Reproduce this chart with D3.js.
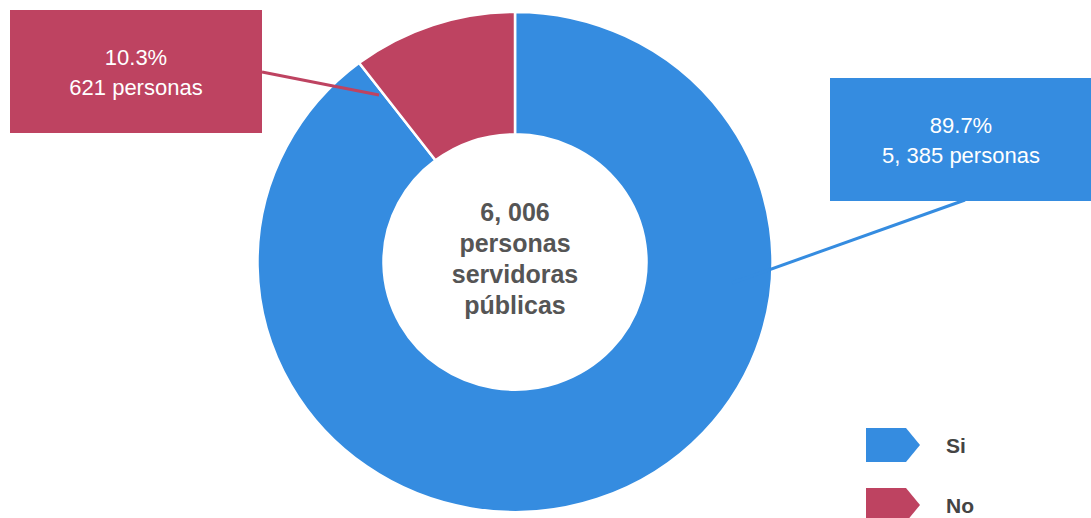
<!DOCTYPE html>
<html>
<head>
<meta charset="utf-8">
<script src="https://cdn.jsdelivr.net/npm/d3@7"></script>
<style>
  body { margin: 0; background: #fff; }
  svg { display: block; font-family: "Liberation Sans", Arial, sans-serif; }
</style>
</head>
<body>
<div id="chart"></div>
<script>
// data
const categories = ['Si', 'No'];
const personas = [5385, 621];
const percents = ['89.7%', '10.3%'];
const countLabels = ['5, 385 personas', '621 personas'];
const centerLines = ['6, 006', 'personas', 'servidoras', 'públicas'];

const w = 1091;
const h = 518;
const cx = 515;
const cy = 262;
const outerR = 257.5;
const innerR = 131.5;
const squash = 0.971;

const colors = d3.scaleOrdinal().domain(categories).range(['#358ce0', '#be4361']);

const svg = d3.select('#chart').append('svg')
  .attr('width', w)
  .attr('height', h);

// donut
const pie = d3.pie().sort(null).value(d => d.v);
const arc = d3.arc().innerRadius(innerR).outerRadius(outerR);
const slices = pie(categories.map((c, i) => ({ c: c, v: personas[i] })));

svg.append('g')
  .attr('transform', 'translate(' + cx + ',' + cy + ') scale(1,' + squash + ')')
  .selectAll('path').data(slices).enter().append('path')
  .attr('d', arc)
  .attr('fill', d => colors(d.data.c))
  .attr('stroke', '#fff')
  .attr('stroke-width', 2.5);

// label boxes with leader lines
const boxes = [
  { x: 830, y: 78, bw: 270, bh: 123, lx1: 965, ly1: 200, lx2: 732, ly2: 283 },
  { x: 10, y: 10, bw: 252, bh: 123, lx1: 262, ly1: 72, lx2: 379, ly2: 95 }
];
categories.forEach((c, i) => {
  const b = boxes[i];
  svg.append('line')
    .attr('x1', b.lx1).attr('y1', b.ly1)
    .attr('x2', b.lx2).attr('y2', b.ly2)
    .attr('stroke', colors(c))
    .attr('stroke-width', 3);
  svg.append('rect')
    .attr('x', b.x).attr('y', b.y)
    .attr('width', b.bw).attr('height', b.bh)
    .attr('fill', colors(c));
  const tx = i === 0 ? 961 : 136;
  svg.append('text')
    .attr('x', tx).attr('y', b.y + 55)
    .attr('text-anchor', 'middle')
    .attr('fill', '#fff')
    .attr('font-size', 22)
    .text(percents[i]);
  svg.append('text')
    .attr('x', tx).attr('y', b.y + 85)
    .attr('text-anchor', 'middle')
    .attr('fill', '#fff')
    .attr('font-size', 22)
    .text(countLabels[i]);
});

// center text
svg.append('g').selectAll('text').data(centerLines).enter().append('text')
  .attr('x', cx)
  .attr('y', (d, i) => 221 + i * 31)
  .attr('text-anchor', 'middle')
  .attr('fill', '#555')
  .attr('font-weight', 'bold')
  .attr('font-size', 25)
  .text(d => d);

// legend
const legend = svg.append('g').selectAll('g').data(categories).enter().append('g')
  .attr('transform', (d, i) => 'translate(866,' + (428 + i * 60) + ')');
legend.append('path')
  .attr('d', 'M0,0 H40 L54,17 L40,34 H0 Z')
  .attr('fill', d => colors(d));
legend.append('text')
  .attr('x', 80).attr('y', 25)
  .attr('fill', '#444')
  .attr('font-weight', 'bold')
  .attr('font-size', 21)
  .text(d => d);
</script>
</body>
</html>
